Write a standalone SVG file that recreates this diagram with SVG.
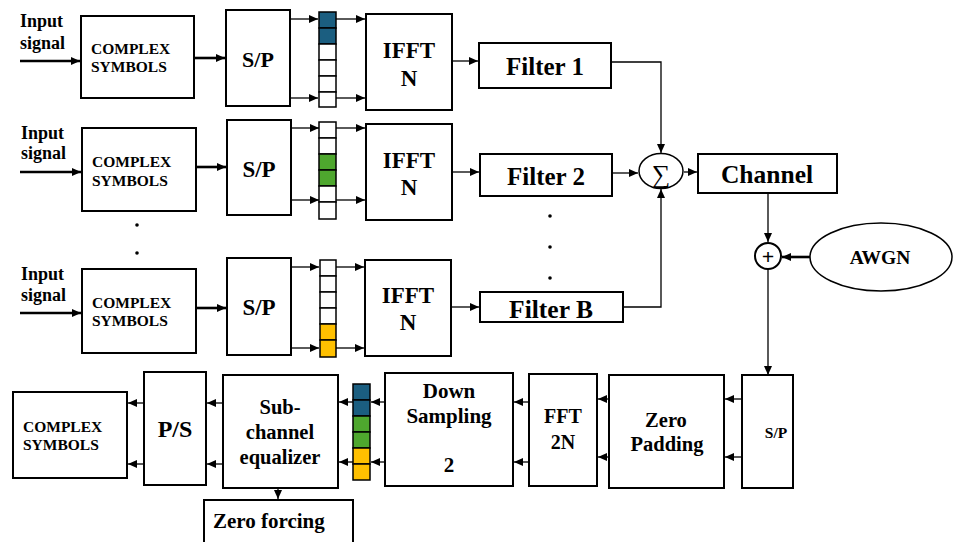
<svg xmlns="http://www.w3.org/2000/svg" width="955" height="542" viewBox="0 0 955 542">
<defs>
<marker id="ah" markerUnits="userSpaceOnUse" markerWidth="9" markerHeight="8" refX="9" refY="4" orient="auto"><path d="M0,0 L9,4 L0,8 z" fill="#000"/></marker>
</defs>
<style>
.b{fill:#fff;stroke:#000;stroke-width:2}
.t{font-family:"Liberation Serif","Times New Roman",serif;font-weight:bold;fill:#000}
.c{stroke:#000;stroke-width:1.3;fill:none}
.k{stroke:#000;stroke-width:2.6;fill:none}
.cell{stroke:#000;stroke-width:1.5}
.w{fill:#fff}.bl{fill:#1b5e80}.gr{fill:#4ea72e}.or{fill:#ffc000}
</style>
<rect width="955" height="542" fill="#fff"/>
<g id="connectors">
<path class="k" d="M20,61H80" marker-end="url(#ah)"/>
<path class="k" d="M194,58H225" marker-end="url(#ah)"/>
<path class="c" d="M290,19H318" marker-end="url(#ah)"/>
<path class="c" d="M290,98H318" marker-end="url(#ah)"/>
<path class="c" d="M336,19H365" marker-end="url(#ah)"/>
<path class="c" d="M336,98H365" marker-end="url(#ah)"/>
<path class="c" d="M452,61H478" marker-end="url(#ah)"/>
<path class="k" d="M20,172H81" marker-end="url(#ah)"/>
<path class="k" d="M196,167H226" marker-end="url(#ah)"/>
<path class="c" d="M291,128H319" marker-end="url(#ah)"/>
<path class="c" d="M291,200H319" marker-end="url(#ah)"/>
<path class="c" d="M336,128H365" marker-end="url(#ah)"/>
<path class="c" d="M336,200H365" marker-end="url(#ah)"/>
<path class="c" d="M452,172H479" marker-end="url(#ah)"/>
<path class="k" d="M20,313H81" marker-end="url(#ah)"/>
<path class="k" d="M196,308H226" marker-end="url(#ah)"/>
<path class="c" d="M291,267H319" marker-end="url(#ah)"/>
<path class="c" d="M291,348H319" marker-end="url(#ah)"/>
<path class="c" d="M336,267H364" marker-end="url(#ah)"/>
<path class="c" d="M336,348H364" marker-end="url(#ah)"/>
<path class="c" d="M451,307H479" marker-end="url(#ah)"/>
<path class="c" d="M611,62H661V153" marker-end="url(#ah)"/>
<path class="c" d="M612,173H638" marker-end="url(#ah)"/>
<path class="c" d="M623,307H661V189" marker-end="url(#ah)"/>
<path class="c" d="M684,172H697" marker-end="url(#ah)"/>
<path class="c" d="M768,193V242" marker-end="url(#ah)"/>
<path class="k" d="M810,257H782" marker-end="url(#ah)"/>
<path class="c" d="M768,269V375" marker-end="url(#ah)"/>
<path class="c" d="M742,399H725" marker-end="url(#ah)"/>
<path class="c" d="M742,457H725" marker-end="url(#ah)"/>
<path class="c" d="M609,399H598" marker-end="url(#ah)"/>
<path class="c" d="M609,457H598" marker-end="url(#ah)"/>
<path class="c" d="M529,402H514" marker-end="url(#ah)"/>
<path class="c" d="M529,462H514" marker-end="url(#ah)"/>
<path class="c" d="M385,402H371" marker-end="url(#ah)"/>
<path class="c" d="M385,462H371" marker-end="url(#ah)"/>
<path class="c" d="M353,402H339" marker-end="url(#ah)"/>
<path class="c" d="M353,462H339" marker-end="url(#ah)"/>
<path class="c" d="M223,403H207" marker-end="url(#ah)"/>
<path class="c" d="M223,464H207" marker-end="url(#ah)"/>
<path class="c" d="M144,403H128" marker-end="url(#ah)"/>
<path class="c" d="M144,464H128" marker-end="url(#ah)"/>
<path class="c" d="M278,488V499" marker-end="url(#ah)"/>
</g>
<g id="labels-input">
<text class="t" font-size="18" x="20" y="27">Input</text>
<text class="t" font-size="18" x="20" y="49">signal</text>
<text class="t" font-size="18" x="21" y="139">Input</text>
<text class="t" font-size="18" x="21" y="159">signal</text>
<text class="t" font-size="18" x="21" y="280">Input</text>
<text class="t" font-size="18" x="21" y="301">signal</text>
</g>
<g id="cs1"><rect class="b" x="81" y="16" width="113" height="82"/><text class="t" font-size="15.5" x="91" y="54">COMPLEX</text><text class="t" font-size="15.5" x="91" y="72">SYMBOLS</text></g>
<g id="cs2"><rect class="b" x="82" y="128" width="114" height="83"/><text class="t" font-size="15.5" x="92" y="167">COMPLEX</text><text class="t" font-size="15.5" x="92" y="186">SYMBOLS</text></g>
<g id="cs3"><rect class="b" x="82" y="269" width="114" height="84"/><text class="t" font-size="15.5" x="92" y="308">COMPLEX</text><text class="t" font-size="15.5" x="92" y="326">SYMBOLS</text></g>
<g id="sp1"><rect class="b" x="226" y="10" width="64" height="96"/><text class="t" font-size="22" x="258" y="67" text-anchor="middle">S/P</text></g>
<g id="sp2"><rect class="b" x="227" y="120" width="64" height="95"/><text class="t" font-size="23" x="259" y="177" text-anchor="middle">S/P</text></g>
<g id="sp3"><rect class="b" x="227" y="258" width="64" height="97"/><text class="t" font-size="23" x="259" y="315" text-anchor="middle">S/P</text></g>
<g id="stack1">
<rect class="cell bl" x="319" y="12" width="17" height="16"/><rect class="cell bl" x="319" y="28" width="17" height="16"/>
<rect class="cell w" x="319" y="44" width="17" height="16"/><rect class="cell w" x="319" y="60" width="17" height="16"/>
<rect class="cell w" x="319" y="76" width="17" height="16"/><rect class="cell w" x="319" y="92" width="17" height="15"/>
</g>
<g id="stack2">
<rect class="cell w" x="319" y="122" width="17" height="16"/><rect class="cell w" x="319" y="138" width="17" height="16"/>
<rect class="cell gr" x="319" y="154" width="17" height="16"/><rect class="cell gr" x="319" y="170" width="17" height="16"/>
<rect class="cell w" x="319" y="186" width="17" height="16"/><rect class="cell w" x="319" y="202" width="17" height="17"/>
</g>
<g id="stack3">
<rect class="cell w" x="320" y="260" width="16" height="16"/><rect class="cell w" x="320" y="276" width="16" height="16"/>
<rect class="cell w" x="320" y="292" width="16" height="16"/><rect class="cell w" x="320" y="308" width="16" height="16"/>
<rect class="cell or" x="320" y="324" width="16" height="16"/><rect class="cell or" x="320" y="340" width="16" height="17"/>
</g>
<g id="ifft1"><rect class="b" x="366" y="14" width="86" height="96"/><text class="t" font-size="23" x="409" y="58" text-anchor="middle">IFFT</text><text class="t" font-size="23" x="409" y="86" text-anchor="middle">N</text></g>
<g id="ifft2"><rect class="b" x="366" y="124" width="86" height="96"/><text class="t" font-size="23" x="409" y="168" text-anchor="middle">IFFT</text><text class="t" font-size="23" x="409" y="195" text-anchor="middle">N</text></g>
<g id="ifft3"><rect class="b" x="365" y="260" width="86" height="96"/><text class="t" font-size="23" x="408" y="303" text-anchor="middle">IFFT</text><text class="t" font-size="23" x="408" y="330" text-anchor="middle">N</text></g>
<g id="filter1"><rect class="b" x="479" y="43" width="132" height="45"/><text class="t" font-size="25" x="545" y="75" text-anchor="middle">Filter 1</text></g>
<g id="filter2"><rect class="b" x="480" y="154" width="132" height="42"/><text class="t" font-size="25" x="546" y="185" text-anchor="middle">Filter 2</text></g>
<g id="filterB"><rect class="b" x="480" y="292" width="143" height="30"/><text class="t" font-size="25.5" x="551" y="318" text-anchor="middle">Filter B</text></g>
<g id="dots">
<circle cx="137" cy="225" r="1.8"/><circle cx="137" cy="253" r="1.8"/>
<circle cx="550" cy="216" r="1.8"/><circle cx="550" cy="247" r="1.8"/><circle cx="550" cy="278" r="1.8"/>
</g>
<g id="sum"><ellipse cx="661" cy="171" rx="22" ry="17.5" fill="#fff" stroke="#000" stroke-width="1.5"/><text x="661" y="183" font-family="'Liberation Serif',serif" font-size="26" text-anchor="middle">∑</text></g>
<g id="channel"><rect class="b" x="698" y="154" width="139" height="39"/><text class="t" font-size="25.5" x="767" y="183" text-anchor="middle">Channel</text></g>
<g id="plus"><circle cx="768" cy="256" r="13" fill="#fff" stroke="#000" stroke-width="2"/><text class="t" font-size="22" x="768" y="264" text-anchor="middle">+</text></g>
<g id="awgn"><ellipse cx="881" cy="257" rx="71" ry="34" fill="#fff" stroke="#000" stroke-width="1.5"/><text class="t" font-size="19.5" x="880" y="264" text-anchor="middle">AWGN</text></g>
<g id="sp4"><rect class="b" x="742" y="375" width="51" height="113"/><text class="t" font-size="15.5" x="776" y="438" text-anchor="middle">S/P</text></g>
<g id="zeropad"><rect class="b" x="609" y="375" width="115" height="113"/><text class="t" font-size="20.5" x="666" y="427" text-anchor="middle">Zero</text><text class="t" font-size="20.5" x="667" y="451" text-anchor="middle">Padding</text></g>
<g id="fft"><rect class="b" x="529" y="374" width="68" height="112"/><text class="t" font-size="20" x="563" y="423" text-anchor="middle">FFT</text><text class="t" font-size="20" x="563" y="449" text-anchor="middle">2N</text></g>
<g id="downs"><rect class="b" x="385" y="373" width="128" height="113"/><text class="t" font-size="21" x="449" y="398" text-anchor="middle">Down</text><text class="t" font-size="21" x="449" y="423" text-anchor="middle">Sampling</text><text class="t" font-size="21" x="449" y="472" text-anchor="middle">2</text></g>
<g id="stack4">
<rect class="cell bl" x="353" y="384" width="17" height="16"/><rect class="cell bl" x="353" y="400" width="17" height="16"/>
<rect class="cell gr" x="353" y="416" width="17" height="16"/><rect class="cell gr" x="353" y="432" width="17" height="16"/>
<rect class="cell or" x="353" y="448" width="17" height="16"/><rect class="cell or" x="353" y="464" width="17" height="16"/>
</g>
<g id="equalizer"><rect class="b" x="223" y="375" width="115" height="113"/><text class="t" font-size="20.5" x="280" y="414" text-anchor="middle">Sub-</text><text class="t" font-size="20.5" x="280" y="439" text-anchor="middle">channel</text><text class="t" font-size="20.5" x="280" y="464" text-anchor="middle">equalizer</text></g>
<g id="zf"><rect class="b" x="204" y="500" width="149" height="50"/><text class="t" font-size="21" x="213" y="528">Zero forcing</text></g>
<g id="ps"><rect class="b" x="144" y="372" width="62" height="113"/><text class="t" font-size="24" x="175" y="437" text-anchor="middle">P/S</text></g>
<g id="cs4"><rect class="b" x="13" y="392" width="114" height="86"/><text class="t" font-size="15.5" x="23" y="432">COMPLEX</text><text class="t" font-size="15.5" x="23" y="450">SYMBOLS</text></g>
</svg>
